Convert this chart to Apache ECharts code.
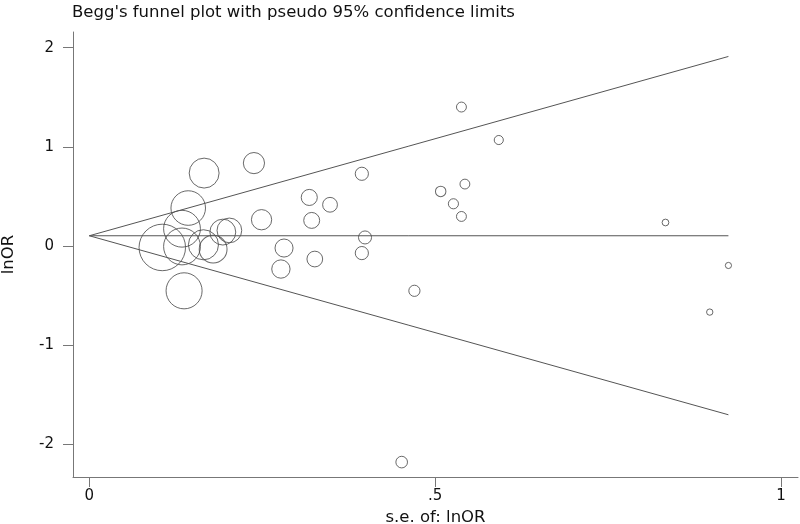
<!DOCTYPE html>
<html>
<head>
<meta charset="utf-8">
<style>html,body{margin:0;padding:0;background:#fff}#c{width:800px;height:524px}</style>
<script src="https://cdn.jsdelivr.net/npm/echarts@6/dist/echarts.min.js"></script>
</head>
<body>
<div id="c"></div>
<script>
// Study standard errors (x) and log odds ratios (y)
var seValues = [0.166,0.238,0.143,0.134,0.1055,0.134,0.165,0.179,0.193,0.2025,0.137,0.249,
  0.394,0.318,0.348,0.3215,0.3986,0.2815,0.326,0.394,0.277,0.47,
  0.538,0.592,0.543,0.508,0.5264,0.538,0.833,0.924,0.897,0.4516];
var lnORValues = [0.734,0.835,0.381,0.172,-0.017,-0.007,0.010,-0.034,0.138,0.155,-0.455,0.263,
  0.727,0.488,0.414,0.256,0.084,-0.023,-0.134,-0.074,-0.235,-0.455,
  1.401,1.068,0.623,0.549,0.424,0.296,0.235,-0.199,-0.670,-2.185];
// Pseudo 95% confidence limits and pooled estimate
var limitX = [0, 0.924];
var upperLimit = [0.101, 1.912];
var lowerLimit = [0.101, -1.707];
var pooledLine = [0.101, 0.101];
var xTicks = [0, 0.5, 1];
var yTicks = [-2, -1, 0, 1, 2];

var pts = seValues.map(function(s, i){ return [s, lnORValues[i]]; });
function pair(ys){ return limitX.map(function(x, i){ return [x, ys[i]]; }); }

var font = "'DejaVu Sans', 'Liberation Sans', Arial, sans-serif";
var lineStyle = {color:'#555', width:1};
var chart = echarts.init(document.getElementById('c'));
chart.setOption({
  animation:false,
  backgroundColor:'#fff',
  title:{text:"Begg's funnel plot with pseudo 95% confidence limits", left:72, top:4, padding:0,
    textStyle:{fontFamily:font, fontSize:16.5, fontWeight:'normal', color:'#111'}},
  grid:{left:73, right:2, top:32, bottom:47, containLabel:false, outerBoundsMode:'none'},
  xAxis:{type:'value', min:-0.0236, max:1.0246,
    name:'s.e. of: lnOR', nameLocation:'middle', nameGap:30,
    nameTextStyle:{fontFamily:font, fontSize:16.5, color:'#111'},
    axisLine:{show:true, onZero:false, lineStyle:{color:'#777', width:1}},
    axisTick:{show:true, customValues:xTicks, length:10, lineStyle:{color:'#777'}},
    axisLabel:{customValues:xTicks, margin:12, fontFamily:font, fontSize:15, color:'#111',
      formatter:function(v){ return v===0 ? '0' : (v===1 ? '1' : String(v).replace(/^0/, '')); }},
    splitLine:{show:false}},
  yAxis:{type:'value', min:-2.3355, max:2.159,
    name:'lnOR', nameLocation:'middle', nameGap:56,
    nameTextStyle:{fontFamily:font, fontSize:16.5, color:'#111'},
    axisLine:{show:true, onZero:false, lineStyle:{color:'#777', width:1}},
    axisTick:{show:true, customValues:yTicks, length:10, lineStyle:{color:'#777'}},
    axisLabel:{customValues:yTicks, margin:19, fontFamily:font, fontSize:15, color:'#111'},
    splitLine:{show:false}},
  series:[
    {type:'line', data:pair(upperLimit), symbol:'none', lineStyle:lineStyle, silent:true},
    {type:'line', data:pair(lowerLimit), symbol:'none', lineStyle:lineStyle, silent:true},
    {type:'line', data:pair(pooledLine), symbol:'none', lineStyle:lineStyle, silent:true},
    {type:'scatter', data:pts, symbol:'circle',
      symbolSize:function(d){ return 4.8 / d[0] + 1; },
      itemStyle:{color:'rgba(0,0,0,0)', borderColor:'#444', borderWidth:1}, silent:true}
  ]
});
</script>
</body>
</html>
